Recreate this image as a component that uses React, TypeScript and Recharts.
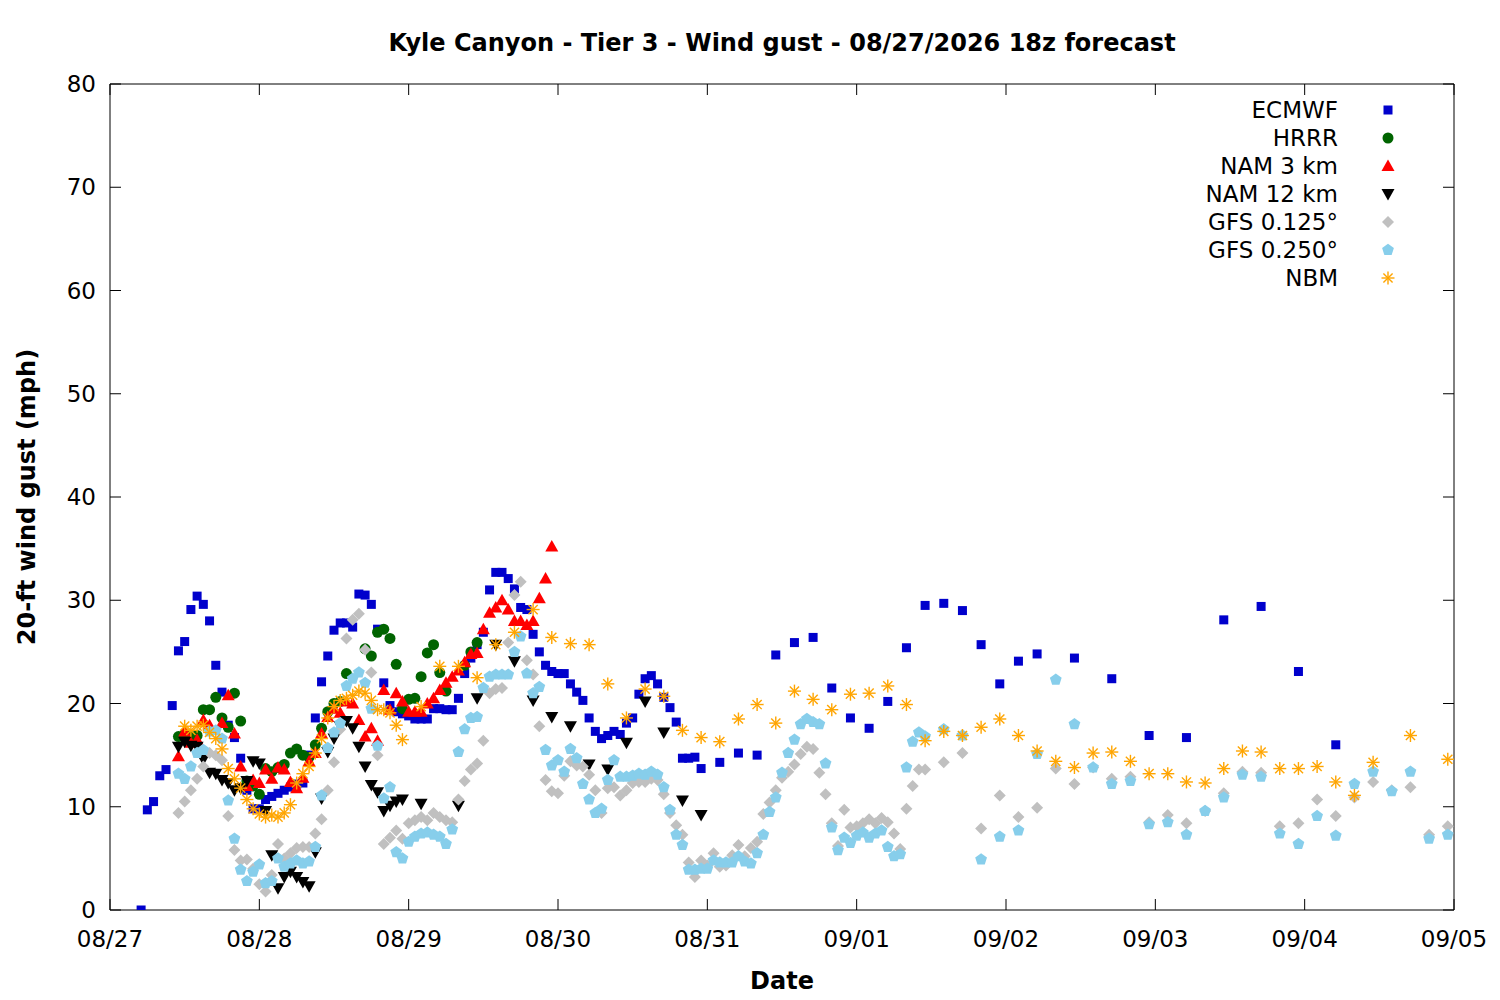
import { ScatterChart, Scatter, XAxis, YAxis } from "recharts";

type Pt = [number, number];

// hours since 08/27 00:00, gust (mph)
const dayLabels = ["08/27", "08/28", "08/29", "08/30", "08/31", "09/01", "09/02", "09/03", "09/04", "09/05"];
const gustTicks = [0, 10, 20, 30, 40, 50, 60, 70, 80];

const ecmwf: Pt[] = [
  [5, 0], [6, 9.7], [7, 10.5], [8, 13.0], [9, 13.6], [10, 19.8], [11, 25.1], [12, 26.0], [13, 29.1], [14, 30.4],
  [15, 29.6], [16, 28.0], [17, 23.7], [18, 21.1], [19, 17.9], [20, 16.7], [21, 14.7], [22, 11.6], [23, 9.8], [24, 9.8],
  [25, 10.7], [26, 11.0], [27, 11.3], [28, 11.6], [29, 11.9], [30, 12.2], [31, 12.3], [32, 15.0], [33, 18.6], [34, 22.1],
  [35, 24.6], [36, 27.1], [37, 27.8], [38, 27.8], [39, 27.4], [40, 30.6], [41, 30.5], [42, 29.6], [43, 27.2], [44, 22.0],
  [45, 19.8], [46, 19.2], [47, 19.0], [48, 18.8], [49, 18.5], [50, 18.5], [51, 18.5], [52, 19.5], [53, 19.5], [54, 19.4],
  [55, 19.4], [56, 20.5], [57, 22.9], [58, 24.4], [59, 25.7], [60, 26.9], [61, 31.0], [62, 32.7], [63, 32.7], [64, 32.1],
  [65, 31.1], [66, 29.3], [67, 29.1], [68, 26.7], [69, 25.0], [70, 23.7], [71, 23.1], [72, 22.9], [73, 22.9], [74, 21.9],
  [75, 21.1], [76, 20.3], [77, 18.6], [78, 17.3], [79, 16.6], [80, 16.9], [81, 17.3], [82, 17.0], [83, 18.1], [84, 18.6],
  [85, 20.9], [86, 22.4], [87, 22.7], [88, 21.9], [89, 20.6], [90, 19.6], [91, 18.2], [92, 14.7], [93, 14.7], [94, 14.8],
  [95, 13.7], [98, 14.3], [101, 15.2], [104, 15.0], [107, 24.7], [110, 25.9], [113, 26.4], [116, 21.5], [119, 18.6],
  [122, 17.6], [125, 20.2], [128, 25.4], [131, 29.5], [134, 29.7], [137, 29.0], [140, 25.7], [143, 21.9], [146, 24.1],
  [149, 24.8], [155, 24.4], [161, 22.4], [167, 16.9], [173, 16.7], [179, 28.1], [185, 29.4], [191, 23.1], [197, 16.0],
];

const hrrr: Pt[] = [
  [11, 16.8], [12, 17.0], [13, 16.8], [14, 16.9], [15, 19.4], [16, 19.4], [17, 20.6], [18, 18.6], [19, 17.7], [20, 21.0],
  [21, 18.3], [22, 12.5], [23, 12.0], [24, 11.2], [25, 13.7], [26, 13.4], [27, 13.8], [28, 14.1], [29, 15.2], [30, 15.6],
  [31, 15.0], [32, 14.8], [33, 16.0], [34, 17.6], [35, 19.2], [36, 20.0], [37, 20.2], [38, 22.9], [41, 25.3], [42, 24.6],
  [43, 26.9], [44, 27.2], [45, 26.3], [46, 23.8], [47, 19.5], [48, 20.4], [49, 20.5], [50, 22.6], [51, 24.9], [52, 25.7],
  [53, 23.0], [54, 21.2], [57, 23.7], [58, 25.0], [59, 25.9],
];

const nam3: Pt[] = [
  [11, 14.9], [12, 17.3], [13, 16.2], [14, 16.5], [15, 18.4], [16, 17.9], [18, 18.1], [19, 20.8], [20, 17.1], [21, 13.9],
  [22, 12.0], [23, 12.6], [24, 12.3], [25, 13.6], [26, 12.7], [27, 13.8], [28, 13.6], [29, 12.4], [30, 11.8], [31, 12.8],
  [32, 14.4], [33, 15.2], [34, 17.1], [35, 18.7], [36, 19.5], [37, 19.1], [38, 20.2], [39, 20.0], [40, 18.4], [41, 16.8],
  [42, 17.6], [43, 16.4], [44, 21.3], [45, 19.4], [46, 21.0], [47, 20.2], [48, 19.2], [49, 19.2], [50, 19.2], [51, 20.0],
  [52, 20.5], [53, 21.3], [54, 22.0], [55, 22.6], [56, 23.2], [57, 24.0], [58, 24.8], [59, 24.9], [60, 27.2], [61, 28.8],
  [62, 29.3], [63, 30.0], [64, 29.1], [65, 28.0], [66, 28.0], [67, 27.6], [68, 28.0], [69, 30.2], [70, 32.1], [71, 35.2],
];

const nam12: Pt[] = [
  [11, 15.8], [12, 16.3], [13, 15.9], [14, 15.8], [15, 14.6], [16, 13.3], [17, 13.2], [18, 12.6], [19, 12.3], [20, 11.6],
  [21, 11.8], [22, 12.5], [23, 14.4], [24, 14.2], [25, 9.6], [26, 5.3], [27, 2.1], [28, 3.2], [29, 3.7], [30, 3.2],
  [31, 2.7], [32, 2.3], [33, 5.6], [34, 10.8], [35, 15.3], [36, 16.6], [37, 17.8], [38, 18.3], [39, 17.6], [40, 15.8],
  [41, 13.9], [42, 12.1], [43, 11.4], [44, 9.6], [45, 10.1], [46, 10.5], [47, 10.7], [50, 10.3], [56, 10.1], [59, 20.5],
  [62, 25.7], [65, 24.1], [68, 20.3], [71, 18.7], [74, 17.8], [77, 14.1], [80, 13.6], [83, 16.2], [86, 20.2], [89, 17.2],
  [92, 10.6], [95, 9.2],
];

const gfs0125: Pt[] = [
  [11, 9.4], [12, 10.5], [13, 11.6], [14, 12.7], [15, 13.9], [16, 15.2], [17, 15.0], [18, 14.5], [19, 9.1], [20, 5.8],
  [21, 4.8], [22, 4.9], [23, 4.0], [24, 2.5], [25, 1.8], [26, 3.4], [27, 6.4], [28, 5.0], [29, 5.5], [30, 6.0],
  [31, 6.1], [32, 6.1], [33, 7.4], [34, 8.8], [35, 11.6], [36, 14.3], [37, 17.5], [38, 26.3], [39, 28.1], [40, 28.7],
  [41, 25.2], [42, 23.0], [43, 15.0], [44, 6.4], [45, 7.0], [46, 7.7], [47, 6.9], [48, 8.4], [49, 8.7], [50, 9.0],
  [51, 8.7], [52, 9.4], [53, 9.0], [54, 8.7], [55, 8.5], [56, 10.7], [57, 12.5], [58, 13.6], [59, 14.2], [60, 16.4],
  [61, 21.0], [62, 21.4], [63, 21.5], [64, 25.9], [65, 30.5], [66, 31.8], [67, 24.2], [68, 22.8], [69, 17.8], [70, 12.6],
  [71, 11.5], [72, 11.3], [73, 13.0], [74, 14.4], [75, 14.0], [76, 13.9], [77, 13.1], [78, 11.6], [79, 9.4], [80, 11.8],
  [81, 11.9], [82, 11.1], [83, 11.6], [84, 12.3], [85, 12.4], [86, 12.4], [87, 12.7], [88, 12.6], [89, 11.2], [90, 9.4],
  [91, 8.2], [92, 7.3], [93, 4.6], [94, 3.2], [95, 4.8], [96, 4.3], [97, 5.5], [98, 4.2], [99, 4.3], [100, 5.3],
  [101, 6.3], [102, 5.2], [103, 6.0], [104, 6.6], [105, 9.3], [106, 10.4], [107, 11.6], [108, 12.8], [109, 13.4], [110, 14.1],
  [111, 15.1], [112, 15.8], [113, 15.6], [114, 13.3], [115, 11.2], [116, 8.4], [117, 6.2], [118, 9.7], [119, 8.0], [120, 8.1],
  [121, 8.4], [122, 8.8], [123, 8.4], [124, 8.9], [125, 8.5], [126, 7.4], [127, 5.9], [128, 9.8], [129, 12.0], [130, 13.6],
  [131, 13.6], [134, 14.3], [137, 15.2], [140, 7.9], [143, 11.1], [146, 9.0], [149, 9.9], [152, 13.7], [155, 12.2],
  [158, 13.8], [161, 12.7], [164, 12.9], [167, 8.5], [170, 9.2], [173, 8.4], [176, 9.6], [179, 11.3], [182, 13.4],
  [185, 13.3], [188, 8.1], [191, 8.4], [194, 10.7], [197, 9.1], [200, 10.9], [203, 12.4], [206, 11.6], [209, 11.9],
  [212, 7.3], [215, 8.1],
];

const gfs0250: Pt[] = [
  [11, 13.2], [12, 12.7], [13, 13.9], [14, 15.2], [15, 15.5], [16, 17.3], [17, 17.4], [18, 16.6], [19, 10.6], [20, 6.9],
  [21, 3.9], [22, 2.8], [23, 3.7], [24, 4.4], [25, 2.6], [26, 2.8], [27, 5.0], [28, 4.2], [29, 4.5], [30, 4.8],
  [31, 4.5], [32, 4.7], [33, 6.1], [34, 11.1], [35, 15.7], [36, 17.2], [37, 18.1], [38, 21.7], [39, 22.4], [40, 23.0],
  [41, 22.0], [42, 19.5], [43, 15.9], [44, 10.8], [45, 11.9], [46, 5.6], [47, 5.0], [48, 6.6], [49, 7.1], [50, 7.4],
  [51, 7.5], [52, 7.3], [53, 7.1], [54, 6.4], [55, 7.8], [56, 15.3], [57, 17.5], [58, 18.6], [59, 18.7], [60, 21.5],
  [61, 22.6], [62, 22.8], [63, 22.8], [64, 22.8], [65, 25.0], [66, 26.5], [67, 22.9], [68, 21.0], [69, 21.6], [70, 15.5],
  [71, 14.0], [72, 14.5], [73, 13.4], [74, 15.6], [75, 14.7], [76, 12.2], [77, 10.7], [78, 9.4], [79, 9.8], [80, 12.6],
  [81, 14.5], [82, 12.9], [83, 12.9], [84, 13.0], [85, 13.2], [86, 13.1], [87, 13.4], [88, 13.1], [89, 11.9], [90, 9.7],
  [91, 7.3], [92, 6.3], [93, 3.9], [94, 3.9], [95, 4.0], [96, 4.0], [97, 4.8], [98, 4.6], [99, 4.6], [100, 4.6],
  [101, 5.2], [102, 4.7], [103, 4.5], [104, 5.5], [105, 7.3], [106, 9.5], [107, 10.9], [108, 13.3], [109, 15.2], [110, 16.5],
  [111, 18.0], [112, 18.5], [113, 18.2], [114, 18.0], [115, 14.2], [116, 8.0], [117, 5.8], [118, 7.0], [119, 6.5], [120, 7.2],
  [121, 7.5], [122, 7.0], [123, 7.4], [124, 7.7], [125, 6.1], [126, 5.2], [127, 5.4], [128, 13.8], [129, 16.3], [130, 17.2],
  [131, 16.8], [134, 17.5], [137, 16.9], [140, 4.9], [143, 7.1], [146, 7.7], [149, 15.1], [152, 22.3], [155, 18.0],
  [158, 13.8], [161, 12.2], [164, 12.5], [167, 8.3], [170, 8.5], [173, 7.3], [176, 9.6], [179, 10.9], [182, 13.1],
  [185, 12.9], [188, 7.4], [191, 6.4], [194, 9.1], [197, 7.2], [200, 12.2], [203, 13.4], [206, 11.5], [209, 13.4],
  [212, 6.9], [215, 7.3],
];

const nbm: Pt[] = [
  [12, 17.8], [13, 17.4], [14, 17.8], [15, 17.9], [16, 17.2], [17, 16.6], [18, 15.6], [19, 13.7], [20, 12.7], [21, 11.8],
  [22, 10.7], [23, 9.8], [24, 9.3], [25, 9.0], [26, 9.2], [27, 9.0], [28, 9.4], [29, 10.2], [30, 12.3], [31, 13.2],
  [32, 13.9], [33, 15.2], [34, 16.6], [35, 18.6], [36, 19.7], [37, 20.3], [38, 20.5], [39, 20.8], [40, 21.2], [41, 21.0],
  [42, 20.3], [43, 19.4], [44, 19.4], [45, 19.1], [46, 17.9], [47, 16.5], [50, 19.7], [53, 23.6], [56, 23.6], [59, 22.5],
  [62, 25.7], [65, 26.9], [68, 29.1], [71, 26.4], [74, 25.8], [77, 25.7], [80, 21.9], [83, 18.6], [86, 21.4], [89, 20.7],
  [92, 17.4], [95, 16.7], [98, 16.3], [101, 18.5], [104, 19.9], [107, 18.1], [110, 21.2], [113, 20.4], [116, 19.4],
  [119, 20.9], [122, 21.0], [125, 21.7], [128, 19.9], [131, 16.4], [134, 17.3], [137, 16.9], [140, 17.7], [143, 18.5],
  [146, 16.9], [149, 15.4], [152, 14.4], [155, 13.8], [158, 15.2], [161, 15.3], [164, 14.4], [167, 13.2], [170, 13.2],
  [173, 12.4], [176, 12.3], [179, 13.7], [182, 15.4], [185, 15.3], [188, 13.7], [191, 13.7], [194, 13.9], [197, 12.4],
  [200, 11.1], [203, 14.3], [209, 16.9], [215, 14.6],
];

type Kind = "square" | "circle" | "up" | "down" | "diamond" | "pentagon" | "star";

const series: { name: string; pts: Pt[]; kind: Kind; color: string }[] = [
  { name: "ECMWF", pts: ecmwf, kind: "square", color: "#0000cc" },
  { name: "HRRR", pts: hrrr, kind: "circle", color: "#006400" },
  { name: "NAM 3 km", pts: nam3, kind: "up", color: "#ff0000" },
  { name: "NAM 12 km", pts: nam12, kind: "down", color: "#000000" },
  { name: "GFS 0.125°", pts: gfs0125, kind: "diamond", color: "#c0c0c0" },
  { name: "GFS 0.250°", pts: gfs0250, kind: "pentagon", color: "#87ceeb" },
  { name: "NBM", pts: nbm, kind: "star", color: "#ffa500" },
];

const FONT = "'DejaVu Sans', sans-serif";

function Marker({ kind, cx, cy, color }: { kind: Kind; cx: number; cy: number; color: string }) {
  if (cx == null || cy == null) return null;
  switch (kind) {
    case "square":
      return <rect x={cx - 4.5} y={cy - 4.5} width={9} height={9} fill={color} />;
    case "circle":
      return <circle cx={cx} cy={cy} r={5.5} fill={color} />;
    case "up":
      return <polygon points={`${cx},${cy - 6.5} ${cx + 6.5},${cy + 5} ${cx - 6.5},${cy + 5}`} fill={color} />;
    case "down":
      return <polygon points={`${cx},${cy + 6.5} ${cx + 6.5},${cy - 5} ${cx - 6.5},${cy - 5}`} fill={color} />;
    case "diamond":
      return <polygon points={`${cx},${cy - 6} ${cx + 6},${cy} ${cx},${cy + 6} ${cx - 6},${cy}`} fill={color} />;
    case "pentagon": {
      const p = [0, 1, 2, 3, 4]
        .map((k) => {
          const a = ((-90 + 72 * k) * Math.PI) / 180;
          return `${cx + 6.2 * Math.cos(a)},${cy + 6.2 * Math.sin(a)}`;
        })
        .join(" ");
      return <polygon points={p} fill={color} />;
    }
    case "star": {
      const r = 6.5;
      const d = r * 0.7071;
      return (
        <g stroke={color} strokeWidth={1.4}>
          <line x1={cx - r} y1={cy} x2={cx + r} y2={cy} />
          <line x1={cx} y1={cy - r} x2={cx} y2={cy + r} />
          <line x1={cx - d} y1={cy - d} x2={cx + d} y2={cy + d} />
          <line x1={cx - d} y1={cy + d} x2={cx + d} y2={cy - d} />
        </g>
      );
    }
  }
  return null;
}

const TICK = 11;

function BottomTick(props: any) {
  const { x, y, payload } = props;
  return (
    <g>
      <line x1={x} y1={y} x2={x} y2={y - TICK} stroke="#000" />
      <text x={x} y={y + 37} textAnchor="middle" fontSize={23} fontFamily={FONT} fill="#000">
        {dayLabels[Math.round(payload.value / 24)]}
      </text>
    </g>
  );
}

function TopTick(props: any) {
  const { x, y } = props;
  return <line x1={x} y1={y} x2={x} y2={y + TICK} stroke="#000" />;
}

function LeftTick(props: any) {
  const { x, y, payload } = props;
  return (
    <g>
      <line x1={x} y1={y} x2={x + TICK} y2={y} stroke="#000" />
      <text x={x - 14} y={y + 8} textAnchor="end" fontSize={23} fontFamily={FONT} fill="#000">
        {payload.value}
      </text>
    </g>
  );
}

function RightTick(props: any) {
  const { x, y } = props;
  return <line x1={x} y1={y} x2={x - TICK} y2={y} stroke="#000" />;
}

export default function App() {
  const dayTicks = dayLabels.map((_, i) => i * 24);
  return (
    <div style={{ position: "absolute", left: 0, top: 0, width: 1500, height: 1000, background: "#fff", fontFamily: FONT }}>
      <div
        style={{
          position: "absolute",
          top: 29,
          left: 110,
          width: 1344,
          textAlign: "center",
          fontWeight: "bold",
          fontSize: 24,
          lineHeight: "28px",
        }}
      >
        Kyle Canyon - Tier 3 - Wind gust - 08/27/2026 18z forecast
      </div>
      <ScatterChart width={1500} height={1000} margin={{ top: 83, right: 45, bottom: 0, left: 0 }}>
        <XAxis
          xAxisId="bottom"
          type="number"
          dataKey="h"
          domain={[0, 216]}
          ticks={dayTicks}
          allowDataOverflow
          height={90}
          tickSize={0}
          tickMargin={0}
          tickLine={false}
          axisLine={{ stroke: "#000" }}
          tick={<BottomTick />}
          interval={0}
          label={{
            content: (p: any) => (
              <text
                x={p.viewBox.x + p.viewBox.width / 2}
                y={p.viewBox.y + 79}
                textAnchor="middle"
                fontSize={24}
                fontWeight="bold"
                fontFamily={FONT}
              >
                Date
              </text>
            ),
          }}
        />
        <XAxis
          xAxisId="top"
          orientation="top"
          type="number"
          dataKey="h"
          domain={[0, 216]}
          ticks={dayTicks}
          allowDataOverflow
          height={1}
          tickSize={0}
          tickMargin={0}
          tickLine={false}
          axisLine={{ stroke: "#000" }}
          tick={<TopTick />}
          interval={0}
        />
        <YAxis
          yAxisId="left"
          type="number"
          dataKey="v"
          domain={[0, 80]}
          ticks={gustTicks}
          allowDataOverflow
          width={110}
          tickSize={0}
          tickMargin={0}
          tickLine={false}
          axisLine={{ stroke: "#000" }}
          tick={<LeftTick />}
          interval={0}
          label={{
            content: (p: any) => {
              const cx = p.viewBox.x + 35;
              const cy = p.viewBox.y + p.viewBox.height / 2;
              return (
                <text
                  x={cx}
                  y={cy}
                  transform={`rotate(-90 ${cx} ${cy})`}
                  textAnchor="middle"
                  fontSize={24}
                  fontWeight="bold"
                  fontFamily={FONT}
                >
                  20-ft wind gust (mph)
                </text>
              );
            },
          }}
        />
        <YAxis
          yAxisId="right"
          orientation="right"
          type="number"
          dataKey="v"
          domain={[0, 80]}
          ticks={gustTicks}
          allowDataOverflow
          width={1}
          tickSize={0}
          tickMargin={0}
          tickLine={false}
          axisLine={{ stroke: "#000" }}
          tick={<RightTick />}
          interval={0}
        />
        {series.map((s) => (
          <Scatter
            key={s.name}
            name={s.name}
            xAxisId="bottom"
            yAxisId="left"
            data={s.pts.map(([h, v]) => ({ h, v }))}
            isAnimationActive={false}
            shape={(p: any) => <Marker kind={s.kind} cx={p.cx} cy={p.cy} color={s.color} />}
          />
        ))}
        {/* invisible carrier so the mirror axes get a scale */}
        <Scatter
          xAxisId="top"
          yAxisId="right"
          data={[]}
          isAnimationActive={false}
          legendType="none"
        />
      </ScatterChart>
      <div style={{ position: "absolute", top: 96, right: 100 }}>
        {series.map((s) => (
          <div key={s.name} style={{ display: "flex", alignItems: "center", justifyContent: "flex-end", height: 28 }}>
            <span style={{ fontSize: 23, lineHeight: "28px", marginRight: 38 }}>{s.name}</span>
            <svg width={24} height={28}>
              <Marker kind={s.kind} cx={12} cy={14} color={s.color} />
            </svg>
          </div>
        ))}
      </div>
    </div>
  );
}
